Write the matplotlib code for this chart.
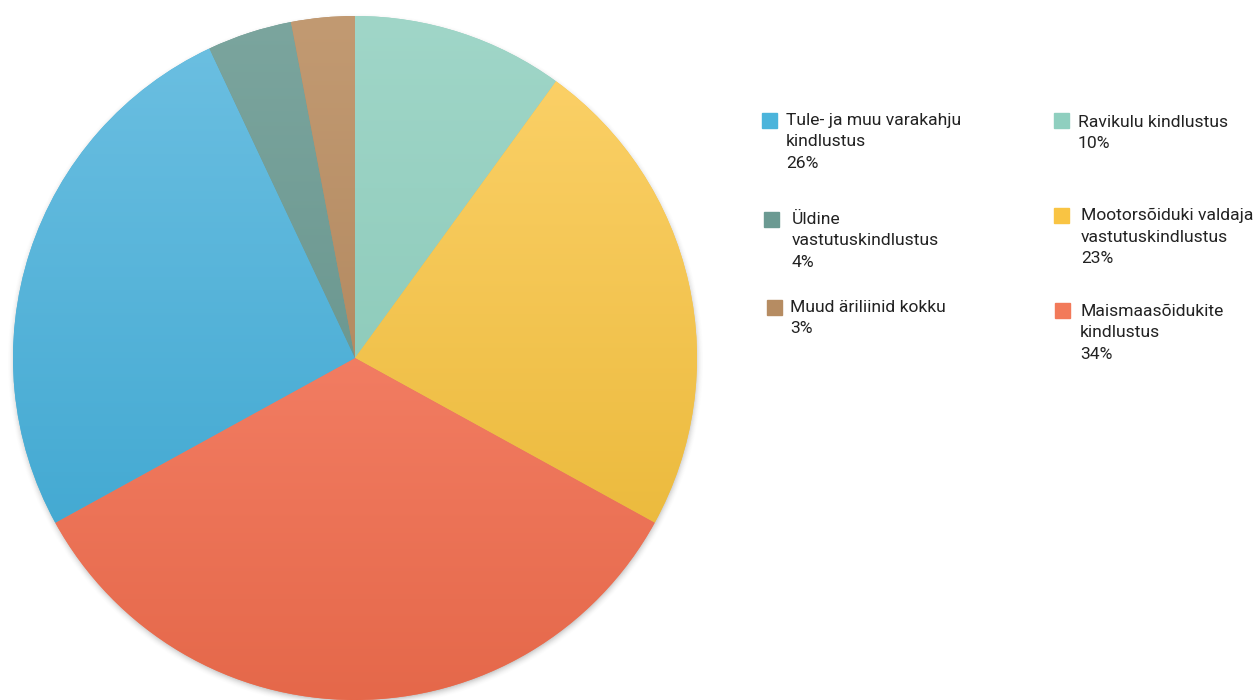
import numpy as np
import matplotlib
matplotlib.use("Agg")
import matplotlib.pyplot as plt
from matplotlib.colors import to_rgb

# Insurance premium shares by business line (%)
labels = [
    "Ravikulu kindlustus",
    "Mootorsõiduki valdaja\nvastutuskindlustus",
    "Maismaasõidukite\nkindlustus",
    "Tule- ja muu varakahju\nkindlustus",
    "Üldine\nvastutuskindlustus",
    "Muud äriliinid kokku",
]
shares = [10, 23, 34, 26, 4, 3]

base_colors = ["#8fcfbf", "#f9c443", "#f27a5a", "#4bb4db", "#6b9a92", "#b68c62"]
top_colors = ["#a0d6c8", "#fdd36c", "#ff917a", "#6dc0e2", "#7ba59e", "#c29a72"]
bottom_colors = ["#7fc2b0", "#e6b22e", "#e5684a", "#36a2cd", "#5e8c84", "#a67c52"]

plt.rcParams["font.family"] = ["Roboto", "DejaVu Sans"]

W, H = 1258, 700
fig = plt.figure(figsize=(W / 100, H / 100), dpi=100)
fig.patch.set_facecolor("white")

cx, cy_top, R = 355, 358, 342
ax = fig.add_axes([(cx - R - 30) / W, (H - cy_top - R - 30) / H,
                   (2 * R + 60) / W, (2 * R + 60) / H])
lim = 1 + 30 / R

wedges, _ = ax.pie(shares, startangle=90, counterclock=False, radius=1.0,
                   colors=base_colors, wedgeprops=dict(linewidth=0))
for w in wedges:
    w.set_zorder(2)

# soft drop shadow around the disc
n = 700
g = np.linspace(-lim, lim, n)
X, Y = np.meshgrid(g, g)
rr = np.hypot(X, Y + 0.008)
alpha = np.clip(1 - (rr - 0.985) / 0.035, 0, 1) ** 2 * 0.55
alpha[rr < 0.985] = 0.55
shadow = np.zeros((n, n, 4))
shadow[..., :3] = 0.3
shadow[..., 3] = alpha
ax.imshow(shadow, extent=(-lim, lim, -lim, lim), origin="lower", zorder=1)

# vertical gradient inside each slice
t = np.linspace(0, 1, 256)[:, None]
for w, ct, cb in zip(wedges, top_colors, bottom_colors):
    ct, cb = np.array(to_rgb(ct)), np.array(to_rgb(cb))
    img = (cb[None, None, :] * (1 - t[..., None]) + ct[None, None, :] * t[..., None])
    img = np.repeat(img, 2, axis=1)
    im = ax.imshow(img, extent=(-1, 1, -1, 1), origin="lower", zorder=3,
                   interpolation="bilinear")
    im.set_clip_path(w)

ax.set_xlim(-lim, lim)
ax.set_ylim(-lim, lim)
ax.set_aspect("equal")
ax.axis("off")

# legend: colour squares with wrapped labels and percentages
legend_items = [
    # (index, square x, square y, text x, text y)
    (3, 762, 113, 786, 113),
    (4, 764, 212, 792, 212),
    (5, 767, 300, 790, 300),
    (0, 1054, 113, 1078, 115),
    (1, 1054, 208, 1081, 208),
    (2, 1055, 303, 1080, 304),
]
sq = 15
for idx, sx, sy, tx, ty in legend_items:
    fig.patches.append(plt.Rectangle((sx / W, 1 - (sy + sq) / H), sq / W, sq / H,
                                     transform=fig.transFigure, color=base_colors[idx],
                                     figure=fig))
    fig.text(tx / W, 1 - ty / H, f"{labels[idx]}\n{shares[idx]}%", ha="left", va="top",
             fontsize=12.6, color="#222222", linespacing=1.53)

fig.savefig("out.png", dpi=100, facecolor="white")
